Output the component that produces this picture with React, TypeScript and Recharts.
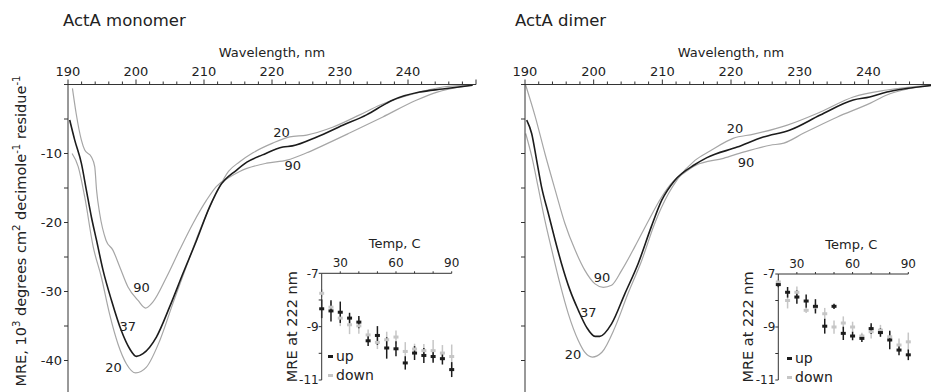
import React from "react";
import {
  LineChart,
  Line,
  XAxis,
  YAxis,
  ReferenceDot,
  ScatterChart,
  Scatter,
  ErrorBar,
  Legend,
  Label,
} from "recharts";

const FONT = "'DejaVu Sans', 'Liberation Sans', Arial, sans-serif";
const INK = "#222";
const AXIS = "#333";
const DARK = "#1c1c1c";
const GREY = "#a6a6a6";
const LIGHT = "#c6c6c6";

// ---- CD spectra, wavelength (nm) / MRE (10^3 deg cm2 dmol-1 res-1) ----
const MONO_20_NM = [190.6, 191.5, 192.46, 193.7, 194.9, 196.1, 197.35, 198.6, 199.96, 201.5, 203.5, 205.4, 207.4, 209.4, 211.8, 213.6, 215.25, 217.2, 220.1, 222.6, 225.1, 228.9, 232.9, 235.9, 241.3, 245.1, 249.5];
const MONO_20_MRE = [-10.0, -11.9, -16.3, -23.5, -27.9, -33.2, -37.6, -40.5, -41.8, -41.0, -37.1, -31.8, -26.4, -21.1, -15.8, -12.6, -11.2, -9.9, -8.5, -7.6, -7.33, -6.2, -4.4, -2.97, -1.23, -0.36, -0.1];

const MONO_37_NM = [190.25, 190.99, 191.97, 192.7, 193.44, 194.2, 195.15, 196.4, 197.85, 199.07, 200.05, 201.03, 203, 204.96, 206.9, 208.9, 210.84, 212.3, 214.8, 216.3, 218.6, 221.6, 223, 226.6, 230.4, 233.9, 236.9, 237.8, 241.7, 245.1, 249.5];
const MONO_37_MRE = [-5.15, -8.06, -11.44, -15.3, -19.2, -22.6, -26.9, -31.3, -35.7, -38.3, -39.4, -39.0, -36.6, -32.2, -27.4, -22.6, -17.7, -14.8, -12.4, -11.25, -10.2, -9.07, -8.9, -7.6, -5.9, -4.4, -2.7, -2.25, -1.1, -0.65, -0.1];

const MONO_90_NM = [190.65, 191.2, 191.97, 192.46, 193.44, 193.93, 194.2, 194.66, 195.6, 196.6, 197.6, 198.8, 200.3, 201.4, 202.5, 204.5, 206.4, 208.4, 210.35, 211.8, 213.8, 215.25, 219.2, 222.2, 225.1, 227, 231.4, 236.3, 241.3, 244.3, 247.6, 249.5];
const MONO_90_MRE = [-0.55, -4.2, -8.06, -9.5, -10.5, -11.9, -15.3, -18.7, -22.6, -24.0, -26.4, -29.3, -31.3, -32.4, -31.5, -27.9, -24.0, -20.1, -16.8, -14.8, -13.4, -12.6, -11.4, -10.96, -9.9, -9.07, -7.04, -4.7, -2.25, -1.1, -0.36, -0.1];

const DIMER_20_NM = [190.1, 191, 191.9, 192.9, 193.9, 195.1, 196.3, 197.76, 198.7, 199.8, 201.2, 203.1, 205, 207, 208.9, 210.9, 212.3, 214.75, 217, 220.3, 223.3, 228.2, 233, 237.8, 242.7, 249.5];
const DIMER_20_MRE = [-7.1, -10.5, -14.8, -19.7, -24.0, -28.9, -33.2, -37.1, -38.8, -39.5, -38.8, -35.2, -30.3, -25.5, -20.1, -15.8, -13.6, -11.0, -9.6, -7.8, -7.2, -5.88, -3.99, -1.81, -0.8, -0.1];

const DIMER_37_NM = [190.25, 190.97, 191.7, 192.4, 193.4, 194.4, 195.3, 196.55, 197.76, 198.98, 200.2, 200.9, 202.6, 204.55, 206.5, 208.4, 209.9, 211.8, 214.75, 216.5, 220.9, 224.7, 228.6, 233, 237.8, 240.2, 242.7, 245.1, 249.5];
const DIMER_37_MRE = [-5.15, -7.1, -11.0, -14.8, -18.7, -22.6, -25.9, -29.8, -32.7, -35.2, -36.5, -36.5, -34.7, -30.3, -25.9, -20.6, -16.8, -13.9, -11.6, -10.6, -9.07, -7.62, -6.6, -4.43, -2.25, -1.81, -1.09, -0.65, -0.1];

const DIMER_90_NM = [190.1, 191.5, 192.9, 194.4, 195.8, 197.3, 198.7, 200.2, 201.4, 202.6, 204.1, 206, 208, 209.9, 211.35, 212.8, 214.9, 218.9, 221.8, 225.7, 227.7, 230.6, 235.5, 240.3, 242.7, 245.1, 249.5];
const DIMER_90_MRE = [-0.1, -4.7, -10.0, -15.3, -20.1, -24.0, -26.9, -28.9, -29.4, -29.1, -26.9, -23.5, -19.7, -16.3, -14.3, -13.1, -11.7, -10.7, -9.8, -8.8, -8.5, -7.04, -4.7, -2.7, -1.52, -0.8, -0.1];

const WAVE_TICKS = [190, 192, 194, 196, 198, 200, 202, 204, 206, 208, 210, 212, 214, 216, 218, 220, 222, 224, 226, 228, 230, 232, 234, 236, 238, 240, 242, 244, 246, 248, 250];
const MRE_TICKS = [-40, -35, -30, -25, -20, -15, -10, -5, 0];

// curve annotations (temperature of each scan)
const MONO_NOTES = [
  { text: "20", nm: 221.4, mre: -6.9 },
  { text: "90", nm: 223.05, mre: -11.7 },
  { text: "90", nm: 200.8, mre: -29.4 },
  { text: "37", nm: 198.8, mre: -35.05 },
  { text: "20", nm: 196.7, mre: -40.96 },
];
const DIMER_NOTES = [
  { text: "20", nm: 220.6, mre: -6.3 },
  { text: "90", nm: 222.2, mre: -11.25 },
  { text: "90", nm: 201.2, mre: -27.9 },
  { text: "37", nm: 199.2, mre: -33.0 },
  { text: "20", nm: 197.0, mre: -39.1 },
];

// ---- thermal melts, MRE at 222 nm ----
const TEMPS = [20, 25, 30, 35, 40, 45, 50, 55, 60, 65, 70, 75, 80, 85, 90];
const TEMP_TICKS = [30, 40, 50, 60, 70, 80, 90];
const MELT_TICKS = [-11, -10, -9, -8, -7];

const MONO_UP = [-8.33, -8.41, -8.46, -8.68, -8.83, -9.53, -9.33, -9.8, -9.83, -10.36, -9.99, -10.08, -10.12, -10.2, -10.61];
const MONO_UP_ERR = [0.35, 0.4, 0.4, 0.2, 0.23, 0.2, 0.35, 0.4, 0.28, 0.25, 0.26, 0.28, 0.23, 0.22, 0.28];
const MONO_DOWN = [-7.75, -8.27, -8.68, -8.93, -8.97, -9.31, -9.59, -9.49, -9.39, -9.93, -9.84, -9.9, -9.9, -9.99, -10.12];
const MONO_DOWN_ERR = [0.15, 0.2, 0.3, 0.35, 0.3, 0.2, 0.25, 0.3, 0.25, 0.35, 0.2, 0.25, 0.4, 0.3, 0.45];

const DIMER_UP = [-7.4, -7.69, -7.87, -8.02, -8.22, -8.97, -8.22, -9.24, -9.34, -9.43, -9.06, -9.21, -9.49, -9.87, -10.05];
const DIMER_UP_ERR = [0.1, 0.2, 0.25, 0.25, 0.27, 0.28, 0.1, 0.25, 0.16, 0.14, 0.2, 0.16, 0.35, 0.2, 0.2];
const DIMER_DOWN = [-7.3, -8.0, -7.69, -8.37, -8.25, -8.5, -9.0, -8.85, -9.0, -9.34, -9.18, -9.12, -9.37, -9.68, -9.56];
const DIMER_DOWN_ERR = [0.1, 0.3, 0.22, 0.1, 0.15, 0.22, 0.25, 0.25, 0.2, 0.12, 0.25, 0.2, 0.2, 0.25, 0.35];

const scan = (nm: number[], mre: number[]) => nm.map((x, i) => ({ nm: x, mre: mre[i] }));
const melt = (v: number[], err: number[]) => TEMPS.map((t, i) => ({ t, v: v[i], err: err[i] }));

const WaveTick = (props: any) => {
  const { x, y, payload } = props;
  const major = payload.value % 10 === 0;
  return (
    <g>
      <line x1={x} x2={x} y1={y} y2={y - (major ? 5 : 3)} stroke={AXIS} />
      {major && payload.value < 250 && (
        <text x={x} y={y - 8.5} textAnchor="middle" fontSize={13} fill={INK}>
          {payload.value}
        </text>
      )}
    </g>
  );
};

const Dash = (color: string) => (p: any) =>
  <rect x={p.cx - 2.5} y={p.cy - 1.5} width={5} height={3} fill={color} />;

const SpectraPanel = ({ curves, notes, labels, width, margin }: any) => (
  <LineChart width={width} height={395} margin={margin} style={{ fontFamily: FONT }}>
    <XAxis
      type="number"
      dataKey="nm"
      orientation="top"
      domain={[190, 250]}
      allowDataOverflow
      ticks={WAVE_TICKS}
      interval={0}
      tickLine={false}
      tickSize={0}
      tickMargin={0}
      tick={<WaveTick />}
      height={28}
      stroke={AXIS}
    >
      <Label value="Wavelength, nm" position="top" offset={0} fontSize={13} fill={INK} />
    </XAxis>
    <YAxis
      type="number"
      domain={[-45, 0]}
      allowDataOverflow
      ticks={MRE_TICKS}
      interval={0}
      tickSize={4}
      tickMargin={2}
      width={40}
      tick={{ fontSize: 13, fill: INK }}
      tickFormatter={(v: number) => (labels && v !== 0 && v % 10 === 0 ? String(v) : "")}
      stroke={AXIS}
    />
    {curves.map((c: any, i: number) => (
      <Line
        key={i}
        data={c.data}
        dataKey="mre"
        type="monotone"
        stroke={c.color}
        strokeWidth={c.w}
        dot={false}
        activeDot={false}
        isAnimationActive={false}
      />
    ))}
    {notes.map((n: any, i: number) => (
      <ReferenceDot
        key={i}
        x={n.nm}
        y={n.mre}
        r={0}
        fill="none"
        stroke="none"
        label={{ value: n.text, position: "center", fontSize: 13, fill: INK }}
      />
    ))}
  </LineChart>
);

const MeltLegend = () => (
  <div style={{ fontFamily: FONT, fontSize: 14, color: INK, lineHeight: "19px" }}>
    {[
      { name: "up", color: DARK },
      { name: "down", color: LIGHT },
    ].map((e) => (
      <div key={e.name} style={{ display: "flex", alignItems: "center" }}>
        <span style={{ width: 5, height: 3, background: e.color, marginRight: 3 }} />
        {e.name}
      </div>
    ))}
  </div>
);

const MeltInset = ({ up, down, left, top, margin, legend }: any) => (
  <div style={{ position: "absolute", left, top }}>
    <ScatterChart width={190} height={160} margin={margin} style={{ fontFamily: FONT }}>
      <XAxis
        type="number"
        dataKey="t"
        orientation="top"
        domain={[20, 90]}
        ticks={TEMP_TICKS}
        interval={0}
        tickSize={2}
        tickMargin={4}
        height={25}
        tick={{ fontSize: 12, fill: INK }}
        tickFormatter={(v: number) => (v % 30 === 0 ? String(v) : "")}
        stroke={AXIS}
      >
        <Label value="Temp, C" position="top" offset={0} dx={8} fontSize={13} fill={INK} />
      </XAxis>
      <YAxis
        type="number"
        dataKey="v"
        domain={[-11, -7]}
        ticks={MELT_TICKS}
        interval={0}
        tickSize={3}
        tickMargin={0}
        width={30}
        tick={{ fontSize: 12, fill: INK }}
        tickFormatter={(v: number) => (v % 2 !== 0 ? String(v) : "")}
        stroke={AXIS}
      >
        <Label
          value="MRE at 222 nm"
          angle={-90}
          position="insideLeft"
          offset={0}
          fontSize={14.5}
          fill={INK}
          style={{ textAnchor: "middle" }}
        />
      </YAxis>
      <Legend
        layout="vertical"
        align="center"
        verticalAlign="middle"
        content={<MeltLegend />}
        wrapperStyle={{ left: legend.left, top: legend.top, width: "auto" }}
      />
      <Scatter name="down" data={down} fill={LIGHT} shape={Dash(LIGHT)} isAnimationActive={false}>
        <ErrorBar dataKey="err" direction="y" width={0} stroke={LIGHT} strokeWidth={1.5} />
      </Scatter>
      <Scatter name="up" data={up} fill={DARK} shape={Dash(DARK)} isAnimationActive={false}>
        <ErrorBar dataKey="err" direction="y" width={0} stroke={DARK} strokeWidth={1.5} />
      </Scatter>
    </ScatterChart>
  </div>
);

export default function App() {
  const monoCurves = [
    { data: scan(MONO_20_NM, MONO_20_MRE), color: GREY, w: 1.2 },
    { data: scan(MONO_90_NM, MONO_90_MRE), color: GREY, w: 1.2 },
    { data: scan(MONO_37_NM, MONO_37_MRE), color: DARK, w: 1.6 },
  ];
  const dimerCurves = [
    { data: scan(DIMER_20_NM, DIMER_20_MRE), color: GREY, w: 1.2 },
    { data: scan(DIMER_90_NM, DIMER_90_MRE), color: GREY, w: 1.2 },
    { data: scan(DIMER_37_NM, DIMER_37_MRE), color: DARK, w: 1.6 },
  ];
  const title = { position: "absolute" as const, top: 11, fontSize: 16.5, lineHeight: "20px", color: INK };

  return (
    <div
      style={{
        position: "absolute",
        left: 0,
        top: 0,
        width: 931,
        height: 392,
        overflow: "hidden",
        background: "#fff",
        fontFamily: FONT,
      }}
    >
      <div style={{ position: "absolute", left: 0, top: 0 }}>
        <SpectraPanel
          curves={monoCurves}
          notes={MONO_NOTES}
          labels
          width={480}
          margin={{ top: 56.5, right: 4, bottom: 0, left: 28 }}
        />
      </div>
      <div style={{ position: "absolute", left: 470, top: 0 }}>
        <SpectraPanel
          curves={dimerCurves}
          notes={DIMER_NOTES}
          labels={false}
          width={470}
          margin={{ top: 56.5, right: 3, bottom: 0, left: 15 }}
        />
      </div>

      <div style={{ ...title, left: 63 }}>ActA monomer</div>
      <div style={{ ...title, left: 515 }}>ActA dimer</div>

      <div
        style={{
          position: "absolute",
          left: 19,
          top: 231,
          transform: "translate(-50%, -50%) rotate(-90deg)",
          whiteSpace: "nowrap",
          fontSize: 14.5,
          lineHeight: "18px",
          color: INK,
        }}
      >
        MRE, 10<sup style={{ fontSize: "0.7em" }}>3</sup> degrees cm<sup style={{ fontSize: "0.7em" }}>2</sup> decimole
        <sup style={{ fontSize: "0.7em" }}>-1</sup> residue<sup style={{ fontSize: "0.7em" }}>-1</sup>
      </div>

      <MeltInset
        up={melt(MONO_UP, MONO_UP_ERR)}
        down={melt(MONO_DOWN, MONO_DOWN_ERR)}
        left={270}
        top={230}
        margin={{ top: 18.3, right: 8.3, bottom: 10, left: 21.7 }}
        legend={{ left: 58, top: 117 }}
      />
      <MeltInset
        up={melt(DIMER_UP, DIMER_UP_ERR)}
        down={melt(DIMER_DOWN, DIMER_DOWN_ERR)}
        left={726}
        top={230}
        margin={{ top: 19, right: 7.7, bottom: 10, left: 22.3 }}
        legend={{ left: 61, top: 118.5 }}
      />
    </div>
  );
}
